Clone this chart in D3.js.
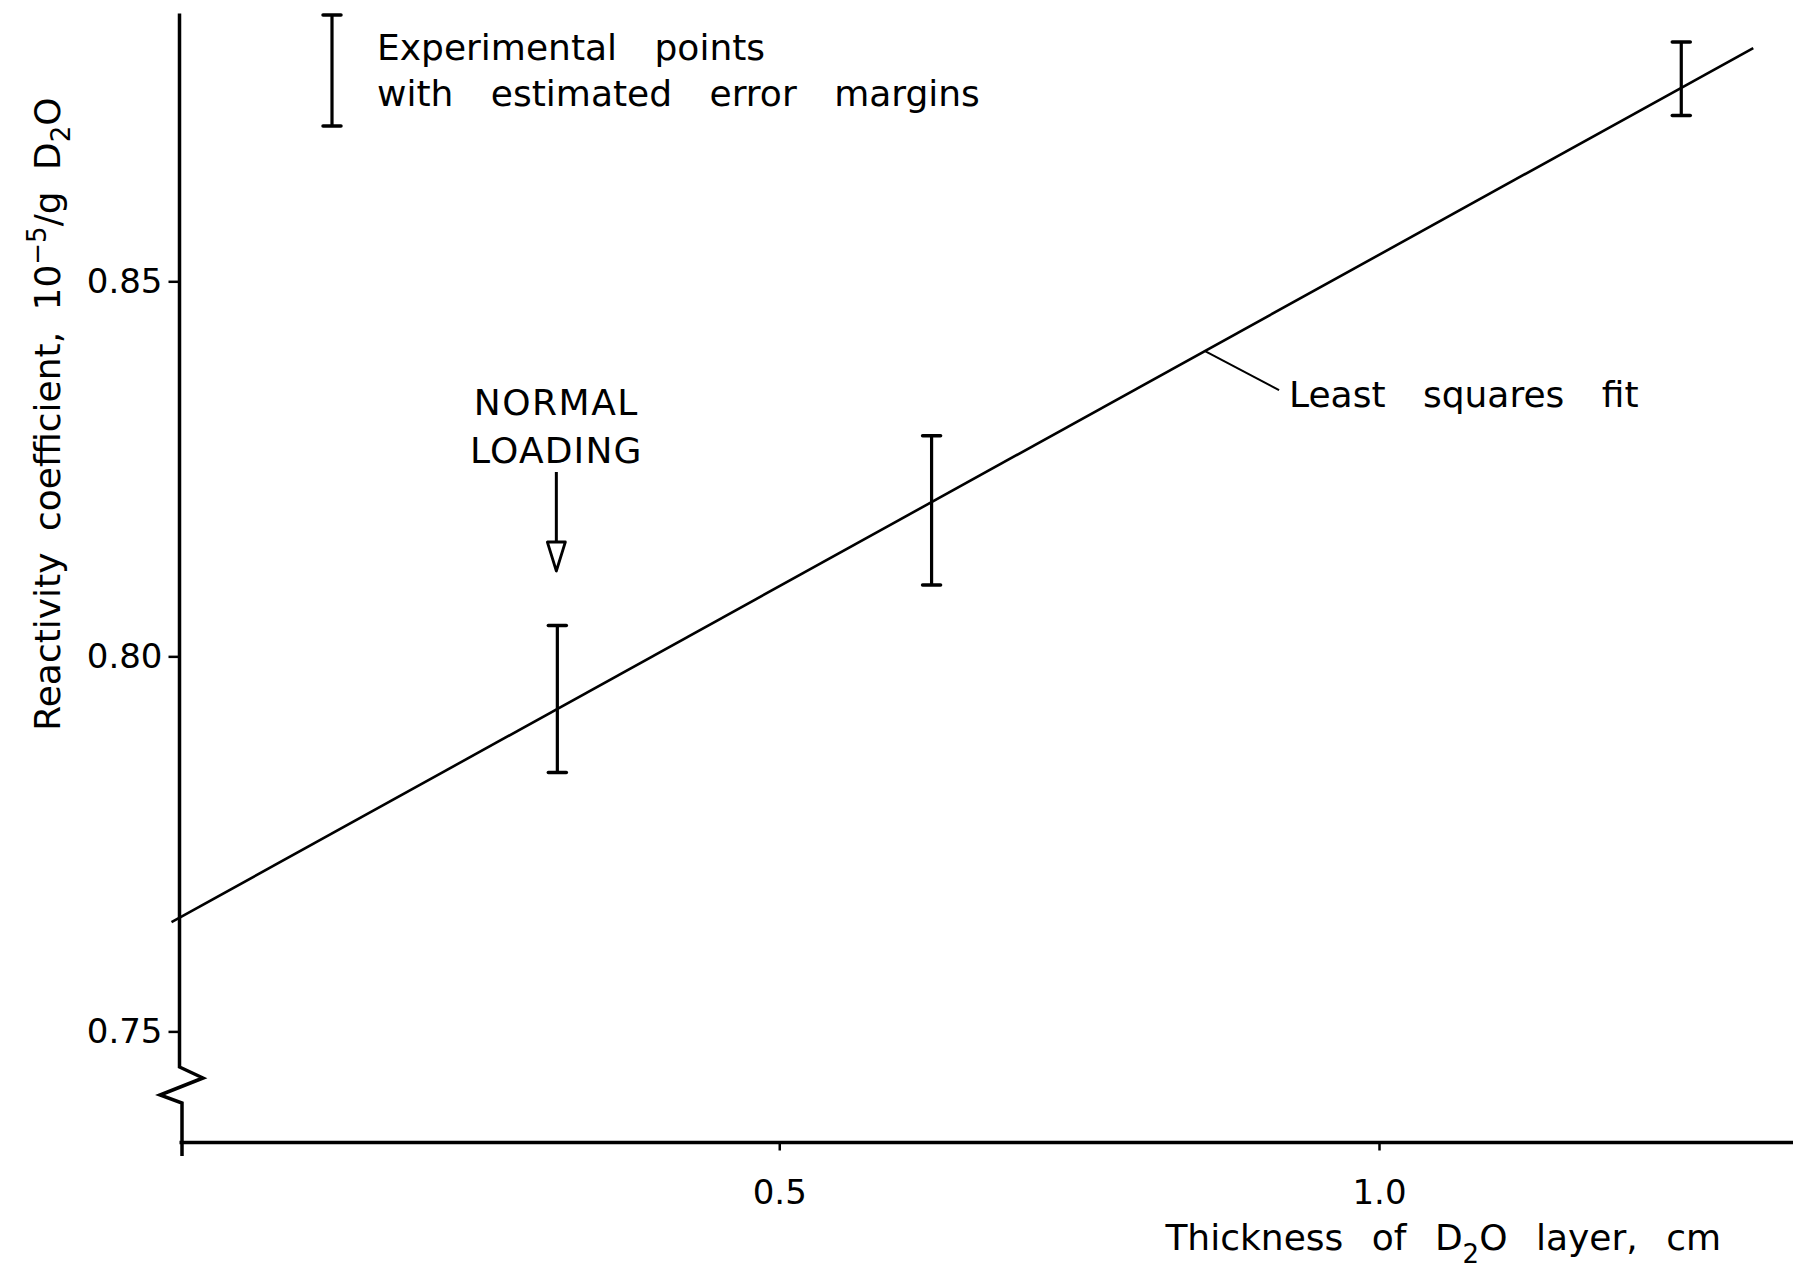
<!DOCTYPE html>
<html>
<head>
<meta charset="utf-8">
<script src="https://cdn.jsdelivr.net/npm/d3@7"></script>
<style>
  html, body { margin: 0; padding: 0; background: #fff; }
  svg { display: block; }
  text { font-family: "DejaVu Sans", sans-serif; fill: #000; }
</style>
</head>
<body>
<div id="zone"></div>
<script>
(function() {
  "use strict";

  // données
  var thickness = [0.315, 0.627, 1.252];       // cm
  var valueLow  = [0.7845, 0.8095, 0.8721];    // bas de la barre d'erreur
  var valueHigh = [0.8041, 0.8294, 0.8819];    // haut de la barre d'erreur
  var fitX = [0, 1.312];                       // droite des moindres carrés
  var fitY = [0.7651, 0.8811];
  var yTicks = [0.75, 0.80, 0.85];
  var xTicks = [0.5, 1.0];

  var width = 1793, height = 1271;

  var svg = d3.select("#zone").append("svg")
    .attr("width", width)
    .attr("height", height);

  // échelles : 0 -> axe vertical, 1.0 -> tick "1.0"
  var x = d3.scaleLinear().domain([0, 1]).range([179.5, 1379]);
  var y = d3.scaleLinear().domain([0.75, 0.85]).range([1031.4, 281.3]);

  var axisY = 1142.5;   // position de l'axe horizontal
  var sw = 3.5;         // épaisseur des axes

  // axe vertical avec coupure
  var yTop = y(0.8857);
  var brk = d3.line()([
    [x(0), yTop], [x(0), 1067], [203, 1078], [160, 1095], [182, 1103], [182, 1156]
  ]);
  svg.append("path")
    .attr("d", brk)
    .attr("fill", "none")
    .attr("stroke", "#000")
    .attr("stroke-width", sw)
    .attr("stroke-linejoin", "miter");

  // axe horizontal
  svg.append("line")
    .attr("x1", x(0)).attr("x2", width)
    .attr("y1", axisY).attr("y2", axisY)
    .attr("stroke", "#000").attr("stroke-width", sw);

  // graduations Y
  var gy = svg.append("g")
    .attr("transform", "translate(" + x(0) + ",0)")
    .call(d3.axisLeft(y).tickValues(yTicks).tickFormat(d3.format(".2f")).tickSize(11).tickPadding(6));
  gy.select(".domain").remove();
  gy.selectAll(".tick line").attr("stroke-width", 2.5);
  gy.selectAll(".tick text").style("font-size", "34px").attr("font-family", null);

  // graduations X
  var gx = svg.append("g")
    .attr("transform", "translate(0," + axisY + ")")
    .call(d3.axisBottom(x).tickValues(xTicks).tickFormat(d3.format(".1f")).tickSize(8).tickPadding(29));
  gx.select(".domain").remove();
  gx.selectAll(".tick line").attr("stroke-width", 2.5);
  gx.selectAll(".tick text").style("font-size", "34px").attr("font-family", null);

  // droite des moindres carrés
  svg.append("line")
    .attr("x1", x(fitX[0]) - 8).attr("y1", y(fitY[0]) + 4)
    .attr("x2", x(fitX[1])).attr("y2", y(fitY[1]))
    .attr("stroke", "#000").attr("stroke-width", 2.6);

  // barres d'erreur
  var capW = 9;
  var bars = svg.append("g").selectAll("g")
    .data(thickness)
    .join("g");
  bars.append("line")
    .attr("x1", function(d) { return x(d); })
    .attr("x2", function(d) { return x(d); })
    .attr("y1", function(d, i) { return y(valueHigh[i]); })
    .attr("y2", function(d, i) { return y(valueLow[i]); })
    .attr("stroke", "#000").attr("stroke-width", 3.2);
  bars.append("line")
    .attr("x1", function(d) { return x(d) - capW; })
    .attr("x2", function(d) { return x(d) + capW; })
    .attr("y1", function(d, i) { return y(valueHigh[i]); })
    .attr("y2", function(d, i) { return y(valueHigh[i]); })
    .attr("stroke", "#000").attr("stroke-width", 3.5).attr("stroke-linecap", "round");
  bars.append("line")
    .attr("x1", function(d) { return x(d) - capW; })
    .attr("x2", function(d) { return x(d) + capW; })
    .attr("y1", function(d, i) { return y(valueLow[i]); })
    .attr("y2", function(d, i) { return y(valueLow[i]); })
    .attr("stroke", "#000").attr("stroke-width", 3.5).attr("stroke-linecap", "round");

  // légende
  var lg = svg.append("g");
  lg.append("line").attr("x1", 332).attr("x2", 332).attr("y1", 15).attr("y2", 126)
    .attr("stroke", "#000").attr("stroke-width", 3.2);
  lg.append("line").attr("x1", 323).attr("x2", 341).attr("y1", 15).attr("y2", 15)
    .attr("stroke", "#000").attr("stroke-width", 3.5).attr("stroke-linecap", "round");
  lg.append("line").attr("x1", 323).attr("x2", 341).attr("y1", 126).attr("y2", 126)
    .attr("stroke", "#000").attr("stroke-width", 3.5).attr("stroke-linecap", "round");
  lg.append("text").attr("x", 377).attr("y", 60)
    .style("font-size", "36px").style("word-spacing", "26px")
    .text("Experimental points");
  lg.append("text").attr("x", 377).attr("y", 106)
    .style("font-size", "36px").style("word-spacing", "26px")
    .text("with estimated error margins");

  // annotation "Least squares fit"
  var fx = 0.855;
  var fy = fitY[0] + (fitY[1] - fitY[0]) * (fx - fitX[0]) / (fitX[1] - fitX[0]);
  svg.append("line")
    .attr("x1", x(fx)).attr("y1", y(fy))
    .attr("x2", x(fx) + 74).attr("y2", y(fy) + 39)
    .attr("stroke", "#000").attr("stroke-width", 2);
  svg.append("text").attr("x", 1289).attr("y", 407)
    .style("font-size", "36px").style("word-spacing", "26px")
    .text("Least squares fit");

  // annotation "NORMAL LOADING"
  var ax = x(thickness[0]) - 1;
  svg.append("text").attr("x", ax).attr("y", 415).attr("text-anchor", "middle")
    .style("font-size", "36px").style("letter-spacing", "1.5px").text("NORMAL");
  svg.append("text").attr("x", ax).attr("y", 463).attr("text-anchor", "middle")
    .style("font-size", "36px").style("letter-spacing", "1.2px").text("LOADING");
  svg.append("line").attr("x1", ax).attr("x2", ax).attr("y1", 472).attr("y2", 542)
    .attr("stroke", "#000").attr("stroke-width", 3);
  svg.append("path")
    .attr("d", d3.line()([[ax - 9, 542], [ax + 9, 542], [ax, 571]]) + "Z")
    .attr("fill", "#fff").attr("stroke", "#000").attr("stroke-width", 2.8)
    .attr("stroke-linejoin", "round");

  // titre de l'axe Y
  var yl = svg.append("text")
    .attr("transform", "translate(60,414) rotate(-90)")
    .attr("text-anchor", "middle")
    .style("font-size", "36px").style("word-spacing", "10px");
  yl.append("tspan").text("Reactivity coefficient, 10");
  yl.append("tspan").attr("dy", -14).style("font-size", "26px").text("\u22125");
  yl.append("tspan").attr("dy", 14).text("/g D");
  yl.append("tspan").attr("dy", 10).style("font-size", "26px").text("2");
  yl.append("tspan").attr("dy", -10).text("O");

  // titre de l'axe X
  var xl = svg.append("text")
    .attr("x", 1721).attr("y", 1250).attr("text-anchor", "end")
    .style("font-size", "36px").style("word-spacing", "17px");
  xl.append("tspan").text("Thickness of D");
  xl.append("tspan").attr("dy", 13).style("font-size", "26px").text("2");
  xl.append("tspan").attr("dy", -13).text("O layer, cm");

})();
</script>
</body>
</html>
